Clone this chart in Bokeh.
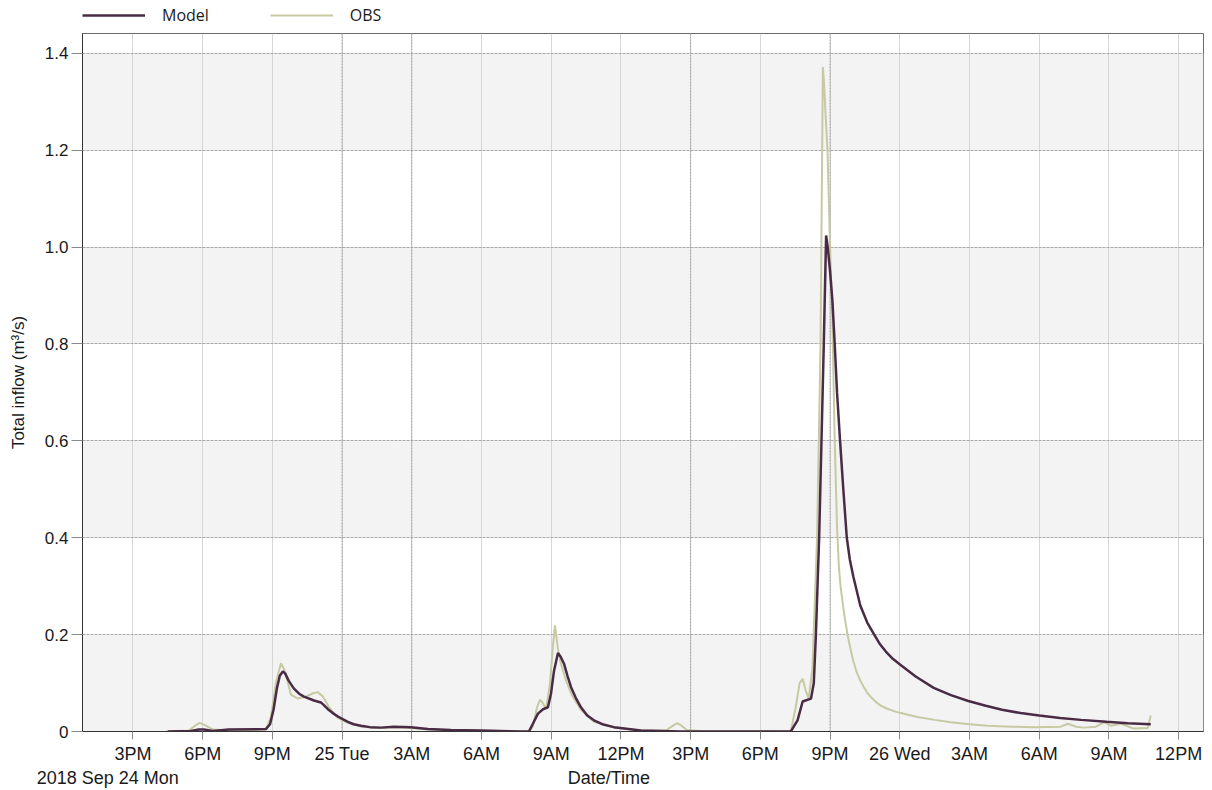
from bokeh.plotting import figure
from bokeh.models import (Range1d, FixedTicker, Legend, LegendItem, Span, BoxAnnotation,
                          LinearAxis)
from bokeh.layouts import column
from bokeh.embed import file_html
from bokeh.resources import INLINE

# x values: hours since 2018-09-24 00:00
model_hours = [16.50, 17.49, 17.84, 18.05, 18.44, 19.13, 20.72, 20.90, 21.05, 21.20, 21.32, 21.45,
               21.55, 21.70, 21.92, 22.15, 22.36, 22.79, 23.09, 23.25, 23.39, 23.60, 23.82, 24.05,
               24.25, 24.50, 24.81, 25.20, 25.67, 26.23, 26.96, 27.69, 28.68, 29.97, 31.69, 32.04,
               32.20, 32.43, 32.65, 32.86, 32.99, 33.12, 33.29, 33.40, 33.55, 33.70, 33.85, 34.05,
               34.28, 34.55, 34.84, 35.20, 35.70, 36.86, 38.58, 43.31, 43.60, 43.82, 44.18, 44.30,
               44.39, 44.53, 44.73, 44.83, 44.90, 45.00, 45.10, 45.20, 45.30, 45.43, 45.57, 45.72,
               45.85, 46.00, 46.15, 46.30, 46.60, 46.90, 47.15, 47.40, 47.70, 48.05, 48.70, 49.46,
               50.20, 50.95, 51.70, 52.40, 53.20, 54.00, 54.90, 55.80, 56.90, 57.80, 58.80]
model_flow = [0.0, 0.001, 0.004, 0.004, 0.001, 0.004, 0.005, 0.015, 0.045, 0.090, 0.115, 0.124,
              0.120, 0.105, 0.089, 0.078, 0.072, 0.064, 0.060, 0.053, 0.046, 0.038, 0.031, 0.025,
              0.020, 0.015, 0.012, 0.009, 0.008, 0.010, 0.009, 0.005, 0.003, 0.002, 0.0, 0.0,
              0.015, 0.037, 0.046, 0.050, 0.078, 0.125, 0.162, 0.155, 0.140, 0.115, 0.092, 0.070,
              0.050, 0.033, 0.023, 0.015, 0.009, 0.002, 0.0, 0.0, 0.023, 0.062, 0.068, 0.10,
              0.20, 0.40, 0.80, 1.024, 1.0, 0.95, 0.89, 0.80, 0.70, 0.60, 0.50, 0.40,
              0.355, 0.32, 0.29, 0.26, 0.225, 0.20, 0.18, 0.165, 0.15, 0.137, 0.113, 0.090,
              0.075, 0.063, 0.053, 0.045, 0.038, 0.033, 0.028, 0.024, 0.020, 0.017, 0.015]

obs_hours = [16.42, 17.41, 17.67, 17.88, 18.14, 18.44, 19.22, 20.72, 20.94, 21.15, 21.37, 21.54,
             21.80, 22.10, 22.44, 22.75, 22.96, 23.18, 23.44, 23.82, 24.25, 24.81, 25.67, 26.23,
             26.96, 27.69, 28.68, 29.97, 32.04, 32.21, 32.39, 32.52, 32.65, 32.78, 32.95, 33.08,
             33.16, 33.29, 33.42, 33.64, 33.89, 34.28, 34.84, 35.70, 36.86, 37.94, 38.24, 38.41,
             38.58, 38.84, 39.44, 43.31, 43.52, 43.69, 43.82, 43.95, 44.08, 44.24, 44.44, 44.59,
             44.66, 44.69, 44.74, 44.80, 44.89, 45.00, 45.10, 45.20, 45.30, 45.38, 45.45, 45.60,
             45.75, 45.88, 46.00, 46.15, 46.30, 46.45, 46.60, 46.80, 47.00, 47.20, 47.46, 47.75,
             48.05, 48.76, 49.50, 50.20, 51.00, 51.78, 52.80, 53.77, 54.93, 55.23, 55.58, 55.92,
             56.44, 56.78, 57.09, 57.51, 58.07, 58.67, 58.80]
obs_flow = [0.0, 0.002, 0.012, 0.018, 0.012, 0.004, 0.002, 0.004, 0.03, 0.10, 0.141, 0.125,
            0.076, 0.068, 0.072, 0.079, 0.081, 0.072, 0.050, 0.028, 0.018, 0.010, 0.007, 0.009,
            0.007, 0.004, 0.002, 0.001, 0.0, 0.010, 0.050, 0.066, 0.058, 0.047, 0.10, 0.18,
            0.219, 0.17, 0.140, 0.105, 0.075, 0.045, 0.020, 0.008, 0.002, 0.002, 0.012, 0.017,
            0.013, 0.003, 0.001, 0.0, 0.050, 0.100, 0.109, 0.085, 0.068, 0.13, 0.40, 0.80,
            1.20, 1.372, 1.34, 1.28, 1.20, 1.00, 0.85, 0.60, 0.42, 0.34, 0.30, 0.245,
            0.20, 0.17, 0.145, 0.122, 0.105, 0.092, 0.080, 0.069, 0.060, 0.053, 0.047, 0.042,
            0.038, 0.030, 0.024, 0.019, 0.015, 0.012, 0.010, 0.009, 0.010, 0.016, 0.010, 0.008,
            0.010, 0.019, 0.012, 0.016, 0.006, 0.007, 0.033]

y_ticks = [0, 0.2, 0.4, 0.6, 0.8, 1.0, 1.2, 1.4]
y_tick_labels = ["0", "0.2", "0.4", "0.6", "0.8", "1.0", "1.2", "1.4"]
shaded_band_starts = [0, 0.4, 0.8, 1.2]
band_size = 0.2
x_ticks = [15, 18, 21, 24, 27, 30, 33, 36, 39, 42, 45, 48, 51, 54, 57, 60]
x_tick_labels = ["3PM", "6PM", "9PM", "25 Tue", "3AM", "6AM", "9AM", "12PM",
                 "3PM", "6PM", "9PM", "26 Wed", "3AM", "6AM", "9AM", "12PM"]
strong_x_lines = [24, 27, 39, 45]
# second row under the time axis: date of the first day, and axis title
row2_positions = [13.92, 35.48]
row2_labels = ["2018 Sep 24 Mon", "Date/Time"]
x_start, x_end = 12.83, 61.07
y_top = 1.441

FONT = "Liberation Sans"
MODEL_COLOR = "#4a2b45"
OBS_COLOR = "#c6c9a2"
TEXT_COLOR = "#1a1a1a"

# ---------------- main chart ----------------
p = figure(width=1212, height=758, output_backend="svg", toolbar_location=None,
           x_range=Range1d(x_start, x_end), y_range=Range1d(0, y_top),
           min_border_left=82, min_border_right=9, min_border_top=1, min_border_bottom=59)
p.background_fill_color = "white"
p.border_fill_color = "white"
p.outline_line_color = "#6a6a6a"
p.outline_line_width = 1

for b in shaded_band_starts:
    p.add_layout(BoxAnnotation(bottom=b, top=b + band_size, fill_color="#f3f3f3",
                               fill_alpha=1.0, line_color=None, level="image"))

p.ygrid.ticker = FixedTicker(ticks=y_ticks)
p.ygrid.grid_line_color = "#a9a9a9"
p.ygrid.grid_line_dash = "3 1"
p.xgrid.ticker = FixedTicker(ticks=x_ticks)
p.xgrid.grid_line_color = "#d6d6d6"
for xs in strong_x_lines:
    p.add_layout(Span(location=xs, dimension="height", line_color="#a0a0a0",
                      line_width=1, line_dash="2 1", level="underlay"))

xa = p.xaxis[0]
xa.ticker = FixedTicker(ticks=x_ticks)
xa.major_label_overrides = dict(zip(x_ticks, x_tick_labels))
xa.major_label_text_font = FONT
xa.major_label_text_font_size = "18px"
xa.major_label_text_color = TEXT_COLOR
xa.major_tick_out = 8
xa.major_tick_in = 0
xa.minor_tick_out = 0
xa.minor_tick_in = 0
xa.major_label_standoff = 4
xa.axis_line_color = "#333333"
xa.major_tick_line_color = "#8a8a8a"

row2 = LinearAxis(ticker=FixedTicker(ticks=row2_positions),
                  major_label_overrides=dict(zip(row2_positions, row2_labels)),
                  axis_line_color=None, major_tick_line_color=None,
                  minor_tick_line_color=None, major_tick_out=0, major_tick_in=0,
                  major_label_standoff=1, major_label_text_font=FONT,
                  major_label_text_font_size="18px", major_label_text_color=TEXT_COLOR)
p.add_layout(row2, "below")

ya = p.yaxis[0]
ya.ticker = FixedTicker(ticks=y_ticks)
ya.major_label_overrides = dict(zip(y_ticks, y_tick_labels))
ya.major_label_text_font = FONT
ya.major_label_text_font_size = "17px"
ya.major_label_text_color = TEXT_COLOR
ya.major_tick_out = 11
ya.major_tick_in = 0
ya.minor_tick_out = 0
ya.minor_tick_in = 0
ya.major_label_standoff = 3
ya.axis_line_color = "#333333"
ya.major_tick_line_color = "#8a8a8a"
ya.axis_label = "Total inflow (m³/s)"
ya.axis_label_text_font = FONT
ya.axis_label_text_font_size = "17px"
ya.axis_label_text_font_style = "normal"
ya.axis_label_text_color = TEXT_COLOR
ya.axis_label_standoff = 14

p.line(obs_hours, obs_flow, line_color=OBS_COLOR, line_width=2)
p.line(model_hours, model_flow, line_color=MODEL_COLOR, line_width=2.5)

# ---------------- legend strip above the chart ----------------
lg = figure(width=1212, height=32, output_backend="svg", toolbar_location=None,
            x_range=Range1d(x_start, x_end), y_range=Range1d(10, 11),
            x_axis_type=None, y_axis_type=None,
            min_border_left=82, min_border_right=9, min_border_top=0, min_border_bottom=0)
lg.outline_line_color = None
lg.grid.visible = False
lg.background_fill_color = "white"
lg.border_fill_color = "white"
lm = lg.line(model_hours, model_flow, line_color=MODEL_COLOR, line_width=2.5)
lo = lg.line(obs_hours, obs_flow, line_color=OBS_COLOR, line_width=2)
legend = Legend(items=[LegendItem(label="Model", renderers=[lm]),
                       LegendItem(label="OBS", renderers=[lo])],
                orientation="horizontal", location=(0, 6),
                glyph_width=63, glyph_height=16, label_height=16, label_standoff=17,
                spacing=61, padding=1, margin=0, border_line_color=None,
                background_fill_alpha=0, label_text_font="Open Sans",
                label_text_font_size="16px", label_text_color=TEXT_COLOR)
lg.add_layout(legend)

layout = column(lg, p, spacing=0)
open("out.html", "w").write(file_html(layout, INLINE))
